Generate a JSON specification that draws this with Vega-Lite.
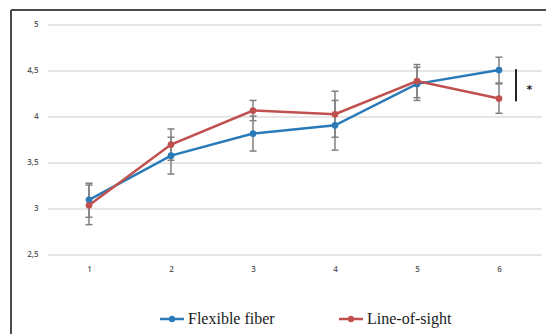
{
  "$schema": "https://vega.github.io/schema/vega-lite/v6.json",
  "width": 535,
  "height": 324,
  "autosize": {"type": "none"},
  "padding": {"left": 11, "top": 10, "right": 0, "bottom": 0},
  "background": "white",
  "datasets": {
    "grid": [{"y": 2.5}, {"y": 3}, {"y": 3.5}, {"y": 4}, {"y": 4.5}, {"y": 5}],
    "series": [
      {"group": "Flexible fiber", "x": 1, "mean": 3.10, "lo": 2.91, "hi": 3.28},
      {"group": "Flexible fiber", "x": 2, "mean": 3.58, "lo": 3.38, "hi": 3.78},
      {"group": "Flexible fiber", "x": 3, "mean": 3.82, "lo": 3.63, "hi": 4.01},
      {"group": "Flexible fiber", "x": 4, "mean": 3.91, "lo": 3.64, "hi": 4.18},
      {"group": "Flexible fiber", "x": 5, "mean": 4.36, "lo": 4.18, "hi": 4.54},
      {"group": "Flexible fiber", "x": 6, "mean": 4.51, "lo": 4.37, "hi": 4.65},
      {"group": "Line-of-sight", "x": 1, "mean": 3.04, "lo": 2.83, "hi": 3.26},
      {"group": "Line-of-sight", "x": 2, "mean": 3.70, "lo": 3.53, "hi": 3.87},
      {"group": "Line-of-sight", "x": 3, "mean": 4.07, "lo": 3.96, "hi": 4.18},
      {"group": "Line-of-sight", "x": 4, "mean": 4.03, "lo": 3.78, "hi": 4.28},
      {"group": "Line-of-sight", "x": 5, "mean": 4.39, "lo": 4.21, "hi": 4.57},
      {"group": "Line-of-sight", "x": 6, "mean": 4.20, "lo": 4.04, "hi": 4.36}
    ],
    "bracket": [{"x": 6.207, "top": 4.52, "bottom": 4.17}],
    "star": [{"x": 6.37, "y": 4.33, "label": "*"}]
  },
  "config": {
    "view": {"stroke": "#4a4a4a", "strokeWidth": 2, "strokeDash": [535, 859, 324, 0]},
    "axis": {"domain": false, "ticks": false, "grid": false, "labelFont": "Open Sans", "labelFontSize": 8, "labelColor": "#595959", "labelFontWeight": 600, "labelOverlap": false, "labelFlush": false},
    "axisX": {"offset": -65, "labelBaseline": "middle", "labelPadding": 0},
    "axisY": {"offset": -29, "labelPadding": 2, "labelExpr": "replace(format(datum.value, '~g'), '.', ',')"},
    "legend": {"orient": "none", "legendX": 149, "legendY": 297, "direction": "horizontal",
      "symbolType": "M-1,-0.1 L1,-0.1 L1,0.1 L-1,0.1 Z M0.28,0 A0.28,0.28 0 1,1 -0.28,0 A0.28,0.28 0 1,1 0.28,0 Z",
      "symbolSize": 576, "symbolStrokeWidth": 0, "symbolOpacity": 1,
      "labelFont": "Liberation Serif", "labelFontSize": 16, "labelColor": "#1a1a1a", "labelOffset": 4, "columnPadding": 64}
  },
  "layer": [
    {
      "data": {"name": "grid"},
      "mark": {"type": "rule", "color": "#dedede", "strokeWidth": 1.5},
      "encoding": {
        "x": {"datum": 0.5, "type": "quantitative", "scale": {"domain": [0.04878, 6.5732], "nice": false, "zero": false},
              "axis": {"values": [1, 2, 3, 4, 5, 6], "format": "d", "title": null}},
        "x2": {"datum": 6.52},
        "y": {"field": "y", "type": "quantitative", "scale": {"domain": [1.6413, 5.163], "nice": false, "zero": false},
              "axis": {"values": [2.5, 3, 3.5, 4, 4.5, 5], "title": null}}
      }
    },
    {
      "data": {"name": "series"},
      "mark": {"type": "line", "strokeWidth": 2.5},
      "encoding": {
        "x": {"field": "x", "type": "quantitative", "axis": {"values": [1, 2, 3, 4, 5, 6], "format": "d", "title": null}},
        "y": {"field": "mean", "type": "quantitative", "axis": {"values": [2.5, 3, 3.5, 4, 4.5, 5], "title": null}},
        "color": {"field": "group", "type": "nominal", "scale": {"domain": ["Flexible fiber", "Line-of-sight"], "range": ["#2a7ab8", "#c0504d"]}, "legend": {"title": null}}
      }
    },
    {
      "data": {"name": "series"},
      "mark": {"type": "rule", "color": "#808080", "strokeWidth": 1.5},
      "encoding": {
        "x": {"field": "x", "type": "quantitative", "axis": {"values": [1, 2, 3, 4, 5, 6], "format": "d", "title": null}},
        "y": {"field": "lo", "type": "quantitative", "axis": {"values": [2.5, 3, 3.5, 4, 4.5, 5], "title": null}},
        "y2": {"field": "hi"}
      }
    },
    {
      "data": {"name": "series"},
      "mark": {"type": "tick", "orient": "horizontal", "color": "#808080", "size": 7, "thickness": 1.5, "opacity": 1},
      "encoding": {
        "x": {"field": "x", "type": "quantitative", "axis": {"values": [1, 2, 3, 4, 5, 6], "format": "d", "title": null}},
        "y": {"field": "lo", "type": "quantitative", "axis": {"values": [2.5, 3, 3.5, 4, 4.5, 5], "title": null}}
      }
    },
    {
      "data": {"name": "series"},
      "mark": {"type": "tick", "orient": "horizontal", "color": "#808080", "size": 7, "thickness": 1.5, "opacity": 1},
      "encoding": {
        "x": {"field": "x", "type": "quantitative", "axis": {"values": [1, 2, 3, 4, 5, 6], "format": "d", "title": null}},
        "y": {"field": "hi", "type": "quantitative", "axis": {"values": [2.5, 3, 3.5, 4, 4.5, 5], "title": null}}
      }
    },
    {
      "data": {"name": "series"},
      "mark": {"type": "point", "filled": true, "size": 45, "opacity": 1},
      "encoding": {
        "x": {"field": "x", "type": "quantitative", "axis": {"values": [1, 2, 3, 4, 5, 6], "format": "d", "title": null}},
        "y": {"field": "mean", "type": "quantitative", "axis": {"values": [2.5, 3, 3.5, 4, 4.5, 5], "title": null}},
        "color": {"field": "group", "type": "nominal", "legend": {"title": null}}
      }
    },
    {
      "data": {"name": "bracket"},
      "mark": {"type": "rule", "color": "#222222", "strokeWidth": 2},
      "encoding": {
        "x": {"field": "x", "type": "quantitative", "axis": {"values": [1, 2, 3, 4, 5, 6], "format": "d", "title": null}},
        "y": {"field": "top", "type": "quantitative", "axis": {"values": [2.5, 3, 3.5, 4, 4.5, 5], "title": null}},
        "y2": {"field": "bottom"}
      }
    },
    {
      "data": {"name": "star"},
      "mark": {"type": "text", "font": "DejaVu Sans", "fontSize": 11, "fontWeight": "bold", "color": "#222222", "baseline": "middle", "dy": 3},
      "encoding": {
        "x": {"field": "x", "type": "quantitative", "axis": {"values": [1, 2, 3, 4, 5, 6], "format": "d", "title": null}},
        "y": {"field": "y", "type": "quantitative", "axis": {"values": [2.5, 3, 3.5, 4, 4.5, 5], "title": null}},
        "text": {"field": "label"}
      }
    }
  ]
}
